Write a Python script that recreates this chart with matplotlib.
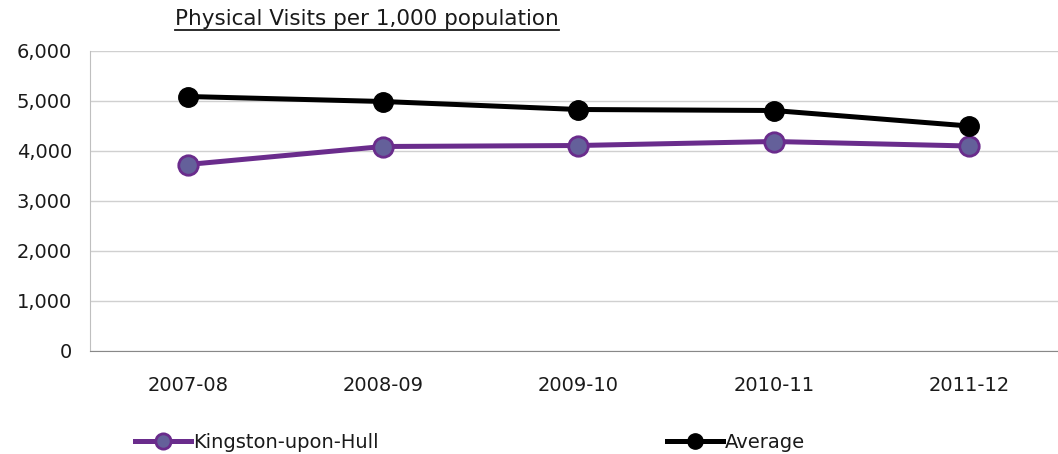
import matplotlib
matplotlib.use("Agg")
import matplotlib.pyplot as plt
from matplotlib.lines import Line2D

# Data
years = ["2007-08", "2008-09", "2009-10", "2010-11", "2011-12"]
kingston = [3730, 4090, 4110, 4190, 4100]
average = [5090, 4990, 4830, 4810, 4500]

purple_line = "#6A2C8C"
purple_face = "#64609A"
grid_col = "#D0D0D0"
txt_col = "#1A1A1A"

plt.rcParams['font.family'] = ['DejaVu Sans']

fig = plt.figure(figsize=(10.58, 4.54), dpi=100)
ax = fig.add_axes([90 / 1058, 1 - 351 / 454, 1 - 90 / 1058, 300 / 454])

x = list(range(len(years)))
ax.plot(x, kingston, color=purple_line, lw=3.6, marker='o', ms=14,
        mfc=purple_face, mec=purple_line, mew=2, zorder=3)
ax.plot(x, average, color='black', lw=3.6, marker='o', ms=14,
        mfc='black', mec='black', zorder=4)

ax.set_ylim(0, 6000)
ax.set_xlim(-0.5, 4.455)
ax.set_yticks(range(0, 6001, 1000))
ax.set_yticklabels([f"{v:,}" for v in range(0, 6001, 1000)])
ax.set_xticks(x)
ax.set_xticklabels(years)
ax.tick_params(axis='y', length=0, pad=13, labelsize=14, labelcolor=txt_col)
ax.tick_params(axis='x', length=0, pad=18, labelsize=14, labelcolor=txt_col)
ax.yaxis.grid(True, color=grid_col, lw=1)
ax.set_axisbelow(True)
for s in ['top', 'right']:
    ax.spines[s].set_visible(False)
ax.spines['left'].set_color('#BFBFBF')
ax.spines['bottom'].set_color('#888888')

# Underlined title
title = fig.text(367 / 1058, 1 - 19 / 454, "Physical Visits per 1,000 population",
                 ha='center', va='center', fontsize=15.5, color=txt_col)
fig.canvas.draw()
bb = title.get_window_extent().transformed(fig.transFigure.inverted())
fig.add_artist(Line2D([bb.x0, bb.x1], [bb.y0 - 0.002, bb.y0 - 0.002],
                      color=txt_col, lw=1.3, transform=fig.transFigure))

# Legend at the bottom, one entry per block
h1 = Line2D([], [], color=purple_line, lw=3.6, marker='o', ms=11,
            mfc=purple_face, mec=purple_line, mew=2)
h2 = Line2D([], [], color='black', lw=3.6, marker='o', ms=11, mfc='black')
fig.legend([h1], ["Kingston-upon-Hull"], loc='center left',
           bbox_to_anchor=(117 / 1058, 1 - 442 / 454), frameon=False,
           fontsize=14, handlelength=2.9, handletextpad=0.1,
           labelcolor=txt_col)
fig.legend([h2], ["Average"], loc='center left',
           bbox_to_anchor=(649 / 1058, 1 - 442 / 454), frameon=False,
           fontsize=14, handlelength=2.9, handletextpad=0.1,
           labelcolor=txt_col)

fig.savefig("out.png", dpi=100)
